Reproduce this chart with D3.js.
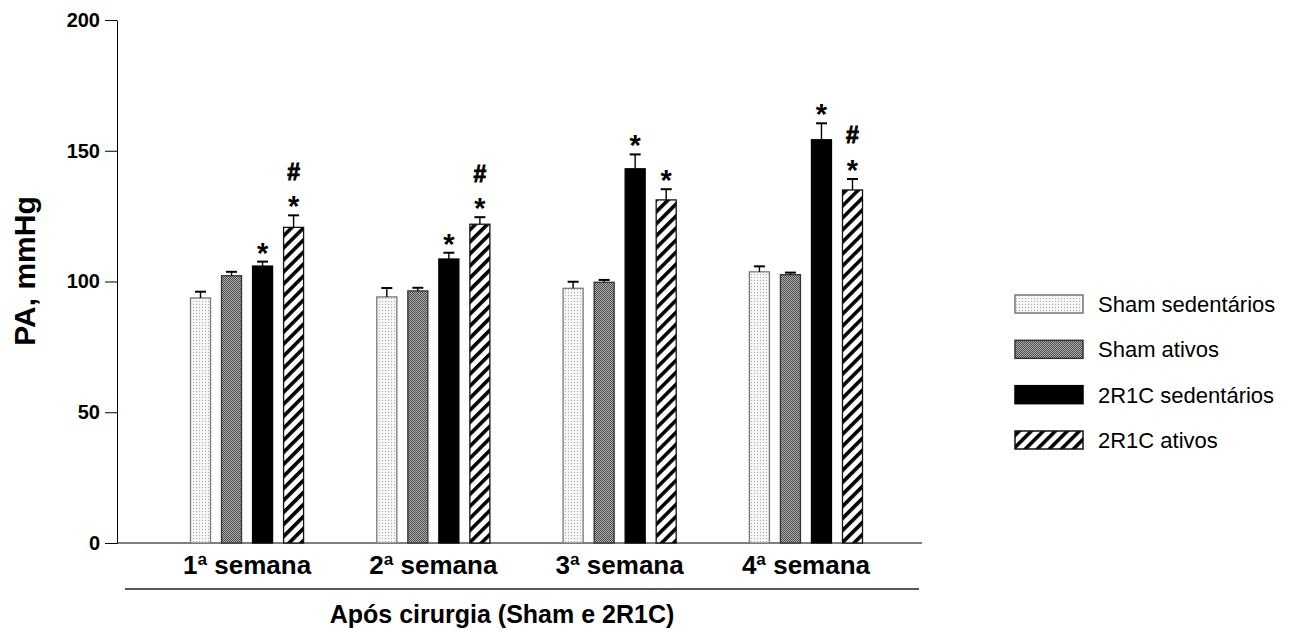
<!DOCTYPE html>
<html>
<head>
<meta charset="utf-8">
<script src="https://cdn.jsdelivr.net/npm/d3@7/dist/d3.min.js"></script>
<style>
  html, body { margin: 0; padding: 0; background: #fff; }
  svg { display: block; font-family: "Liberation Sans", Arial, sans-serif; }
</style>
</head>
<body>
<svg id="chart" width="1291" height="630"></svg>
<script>
// ---- data ----
const weeks = ["1ª semana", "2ª semana", "3ª semana", "4ª semana"];
const series = ["Sham sedentários", "Sham ativos", "2R1C sedentários", "2R1C ativos"];
// mean values per week, in series order
const shamSed   = [93.7, 94.1, 97.4, 103.7];
const shamAtiv  = [102.2, 96.4, 99.7, 102.6];
const r2c1Sed   = [105.9, 108.6, 143.1, 154.2];
const r2c1Ativ  = [120.7, 121.9, 131.2, 135.0];
// error (SEM) per week
const shamSedErr  = [2.4, 3.4, 2.5, 2.1];
const shamAtivErr = [1.5, 1.2, 0.9, 0.8];
const r2c1SedErr  = [1.7, 2.4, 5.5, 6.3];
const r2c1AtivErr = [4.6, 2.7, 4.1, 4.2];
// significance marks per series per week (stacked bottom -> top)
const shamSedMarks  = ["", "", "", ""];
const shamAtivMarks = ["", "", "", ""];
const r2c1SedMarks  = ["*", "*", "*", "*"];
const r2c1AtivMarks = ["*#", "*#", "*", "*#"];
const yTicks = [0, 50, 100, 150, 200];
const yLabel = "PA, mmHg";
const xTitle = "Após cirurgia (Sham e 2R1C)";

const values = [shamSed, shamAtiv, r2c1Sed, r2c1Ativ];
const errors = [shamSedErr, shamAtivErr, r2c1SedErr, r2c1AtivErr];
const marks  = [shamSedMarks, shamAtivMarks, r2c1SedMarks, r2c1AtivMarks];

const rows = [];
weeks.forEach((w, wi) => {
  series.forEach((s, si) => {
    rows.push({week: w, series: s, si, value: values[si][wi], err: errors[si][wi], mark: marks[si][wi]});
  });
});

// ---- chart ----
const svg = d3.select("#chart");
const defs = svg.append("defs");

// patterns
const p1 = defs.append("pattern").attr("id", "pSham").attr("patternUnits", "userSpaceOnUse")
  .attr("width", 3).attr("height", 3);
p1.append("rect").attr("width", 3).attr("height", 3).attr("fill", "#f6f6f6");
p1.append("rect").attr("x", 1).attr("y", 1).attr("width", 1).attr("height", 1).attr("fill", "#a8a8a8");

const p2 = defs.append("pattern").attr("id", "pShamAt").attr("patternUnits", "userSpaceOnUse")
  .attr("width", 2).attr("height", 2);
p2.append("rect").attr("width", 2).attr("height", 2).attr("fill", "#b0b0b0");
p2.append("rect").attr("x", 0).attr("y", 0).attr("width", 1).attr("height", 1).attr("fill", "#4a4a4a");
p2.append("rect").attr("x", 1).attr("y", 1).attr("width", 1).attr("height", 1).attr("fill", "#4a4a4a");

const p4 = defs.append("pattern").attr("id", "pHatch").attr("patternUnits", "userSpaceOnUse")
  .attr("width", 8.5).attr("height", 8.5).attr("patternTransform", "rotate(45)");
p4.append("rect").attr("width", 8.5).attr("height", 8.5).attr("fill", "#fff");
p4.append("rect").attr("x", 0).attr("y", 0).attr("width", 3.6).attr("height", 8.5).attr("fill", "#000");

const fills = ["url(#pSham)", "url(#pShamAt)", "#000", "url(#pHatch)"];
const strokes = ["#777", "#333", "#000", "#111"];

const y = d3.scaleLinear().domain([0, 200]).range([543, 20]);
const x0 = d3.scaleBand().domain(weeks).range([190.5, 862.5]).paddingInner(0.393).paddingOuter(0);
const x1 = d3.scaleBand().domain(series).range([0, x0.bandwidth()]).paddingInner(0.355).paddingOuter(0);

// y axis
const yAxis = d3.axisLeft(y).tickValues(yTicks).tickSize(12).tickPadding(5).tickSizeOuter(0);
const gy = svg.append("g").attr("transform", "translate(117,0)").call(yAxis);
gy.selectAll("text").attr("font-size", 20).attr("font-weight", "bold").attr("fill", "#000")
  .attr("font-family", "'Liberation Sans', Arial, sans-serif");
gy.selectAll("line, path").attr("stroke", "#000").attr("stroke-width", 1);

// x baseline
svg.append("line").attr("x1", 117).attr("x2", 922).attr("y1", y(0)).attr("y2", y(0))
  .attr("stroke", "#000").attr("stroke-width", 1.2);

// bars
const bars = svg.append("g");
bars.selectAll("rect").data(rows).join("rect")
  .attr("x", d => x0(d.week) + x1(d.series))
  .attr("width", x1.bandwidth())
  .attr("y", d => y(d.value))
  .attr("height", d => y(0) - y(d.value))
  .attr("fill", d => fills[d.si])
  .attr("stroke", d => strokes[d.si])
  .attr("stroke-width", 1.3);

// error bars
const eb = svg.append("g").attr("stroke", "#000").attr("stroke-width", 1.4);
rows.forEach(d => {
  const cx = x0(d.week) + x1(d.series) + x1.bandwidth() / 2;
  eb.append("line").attr("x1", cx).attr("x2", cx).attr("y1", y(d.value)).attr("y2", y(d.value + d.err));
  eb.append("line").attr("x1", cx - 5.5).attr("x2", cx + 5.5).attr("y1", y(d.value + d.err)).attr("y2", y(d.value + d.err))
    .attr("stroke-width", 2);
});

// significance marks
const mk = svg.append("g").attr("font-weight", "bold").attr("text-anchor", "middle").attr("fill", "#000");
rows.forEach(d => {
  const cx = x0(d.week) + x1(d.series) + x1.bandwidth() / 2;
  const top = y(d.value + d.err);
  d.mark.split("").forEach((c, i) => {
    const centerY = top - 14 - i * 30;
    if (c === "*") {
      mk.append("text").attr("x", cx).attr("y", centerY + 15).attr("font-size", 29).text("*");
    } else {
      mk.append("text").attr("x", cx).attr("y", centerY + 8.5).attr("font-size", 23)
        .attr("stroke", "#000").attr("stroke-width", 0.9).text("#");
    }
  });
});

// week labels
svg.append("g").selectAll("text").data(weeks).join("text")
  .attr("x", d => x0(d) + x0.bandwidth() / 2)
  .attr("y", 574)
  .attr("text-anchor", "middle")
  .attr("font-size", 26).attr("font-weight", "bold").attr("fill", "#000")
  .text(d => d);

// lower line and x title
svg.append("line").attr("x1", 125).attr("x2", 919).attr("y1", 589).attr("y2", 589)
  .attr("stroke", "#222").attr("stroke-width", 1.5);
svg.append("text").attr("x", 502).attr("y", 623).attr("text-anchor", "middle")
  .attr("font-size", 25).attr("font-weight", "bold").text(xTitle);

// y label
svg.append("text").attr("transform", "translate(35,271) rotate(-90)")
  .attr("text-anchor", "middle").attr("font-size", 30).attr("font-weight", "bold").text(yLabel);

// legend
const lg = svg.append("g").attr("transform", "translate(1015,0)");
const legendY = d3.scalePoint().domain(series).range([304, 440]);
series.forEach((s, i) => {
  const cy = legendY(s);
  lg.append("rect").attr("x", 0).attr("y", cy - 9).attr("width", 68).attr("height", 18)
    .attr("fill", fills[i]).attr("stroke", strokes[i]).attr("stroke-width", 1.5);
  lg.append("text").attr("x", 83).attr("y", cy + 8).attr("font-size", 22).attr("fill", "#000").text(s);
});
</script>
</body>
</html>
